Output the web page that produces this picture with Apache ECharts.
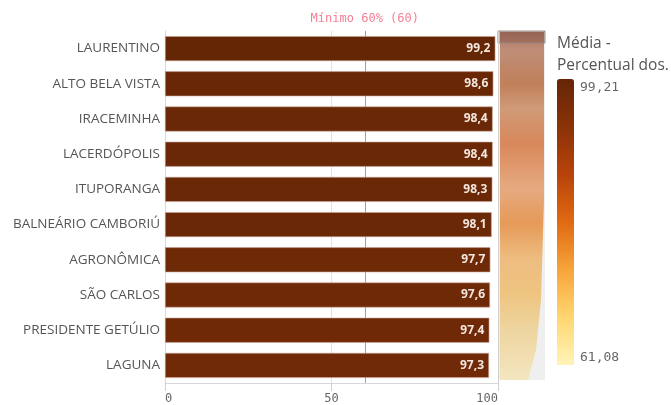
<!DOCTYPE html>
<html><head><meta charset="utf-8">
<script src="https://cdn.jsdelivr.net/npm/echarts@6/dist/echarts.min.js"></script>
<style>html,body{margin:0;padding:0;background:#fff}#c{width:671px;height:405px}</style>
</head><body><div id="c"></div>
<script>
const categories = ['LAURENTINO','ALTO BELA VISTA','IRACEMINHA','LACERDÓPOLIS','ITUPORANGA','BALNEÁRIO CAMBORIÚ','AGRONÔMICA','SÃO CARLOS','PRESIDENTE GETÚLIO','LAGUNA'];
const values = [99.2, 98.6, 98.4, 98.4, 98.3, 98.1, 97.7, 97.6, 97.4, 97.3];
const xTicks = [0, 50, 100];
const refLine = 60;
const refLabel = 'Mínimo 60% (60)';
const legendTitle = 'Média -\nPercentual dos.';
const legendMax = 99.21, legendMin = 61.08;
const legendMaxLabel = '99,21', legendMinLabel = '61,08';

const chart = echarts.init(document.getElementById('c'));
const mono = 'DejaVu Sans Mono';
const pink = '#f07a90';
chart.setOption({
  animation: false,
  grid: {left: 165, right: 173, top: 31, bottom: 20},
  xAxis: {
    type: 'value', min: xTicks[0], max: xTicks[xTicks.length-1], interval: 50,
    axisLine: {show: true, lineStyle: {color: '#d8d8d8'}},
    axisTick: {show: true, length: 8, lineStyle: {color: '#d0d0d0'}},
    splitLine: {show: true, lineStyle: {color: '#e2e2e2'}},
    axisLabel: {color: '#666', fontFamily: mono, fontSize: 12, margin: 10, alignMinLabel: 'left', alignMaxLabel: 'right'}
  },
  yAxis: {
    type: 'category', data: categories, inverse: true,
    axisLine: {show: true, lineStyle: {color: '#d8d8d8'}},
    axisTick: {show: false},
    axisLabel: {color: '#555', fontFamily: 'Open Sans', fontSize: 13.5, margin: 5}
  },
  visualMap: {
    type: 'continuous', min: legendMin, max: legendMax, dimension: 0,
    seriesIndex: [0], show: true, calculable: false, padding: 0,
    left: 557, top: 79, itemWidth: 17, itemHeight: 286,
    inRange: {color: ['#fff4b8', '#ffd670', '#f7a43a', '#e06a12', '#b8430a', '#8a3208', '#652606']}
  },
  series: [{
    type: 'bar', data: values, barCategoryGap: '29%', z: 3,
    itemStyle: {borderColor: '#c9a89a', borderWidth: 0.6},
    label: {show: true, position: 'insideRight', color: '#f3e6de', fontFamily: 'Open Sans', fontWeight: 'bold', fontSize: 12, distance: 5,
      formatter: p => p.value.toFixed(1).replace('.', ',')}
  }, {
    type: 'line', data: [], z: 1, color: pink,
    markLine: {
      silent: true, symbol: 'none', z: 1,
      lineStyle: {color: pink, type: 'solid', width: 1},
      label: {show: true, position: 'start', formatter: refLabel, color: '#f57f95', fontFamily: mono, fontSize: 12, distance: 6},
      data: [{xAxis: refLine}]
    }
  }],
  graphic: [
    {type: 'rect', shape: {x: 498, y: 31, width: 47, height: 349}, style: {fill: '#efefef'}, z: 0},
    {type: 'polygon', shape: {points: [[500,32],[544,32],[544,200],[541,300],[536,350],[528,380],[500,380]]},
      style: {fill: new echarts.graphic.LinearGradient(0,0,0,1,[
        {offset:0, color:'#a8705a'},{offset:0.05, color:'#bf8e78'},{offset:0.15, color:'#c0805a'},{offset:0.22, color:'#d09a78'},
        {offset:0.32, color:'#d8885a'},{offset:0.45, color:'#e6aa80'},{offset:0.55, color:'#e59a58'},{offset:0.65, color:'#eebc80'},
        {offset:0.75, color:'#eec480'},{offset:0.85, color:'#eed49e'},{offset:1, color:'#f3e6c0'}])}, z: 1},
    {type: 'rect', shape: {x: 498, y: 31, width: 47, height: 12}, style: {fill: 'rgba(120,80,70,0.35)', stroke: '#9a8a84', lineWidth: 1}, z: 2},
    {type: 'line', shape: {x1: 498.5, y1: 31, x2: 498.5, y2: 390}, style: {stroke: '#d0d0d0', lineWidth: 1}, z: 2},
    {type: 'text', left: 557, top: 33, style: {text: legendTitle, fill: '#555', font: '15.5px "Open Sans"', lineHeight: 22}},
    {type: 'text', left: 580, top: 81, style: {text: legendMaxLabel, fill: '#666', font: '13px "DejaVu Sans Mono"'}},
    {type: 'text', left: 580, top: 351, style: {text: legendMinLabel, fill: '#666', font: '13px "DejaVu Sans Mono"'}}
  ]
});
</script></body></html>
